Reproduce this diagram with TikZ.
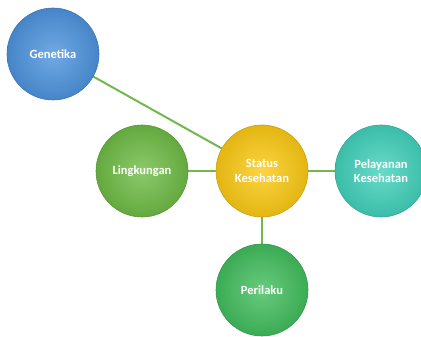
\documentclass[tikz,border=0pt]{standalone}
\usepackage{fontspec}
\setmainfont{Carlito}
\usetikzlibrary{backgrounds}
\definecolor{cblue}{HTML}{4D94DE}
\definecolor{clime}{HTML}{6FBC46}
\definecolor{cyel}{HTML}{FCCA14}
\definecolor{cteal}{HTML}{42D2BC}
\definecolor{cgreen}{HTML}{42BE5E}
\definecolor{cline}{HTML}{72B84A}
\tikzset{
  bubble/.style={circle, minimum size=92pt, inner sep=0pt, align=center,
    text=white, font=\bfseries\fontsize{12.5}{14.5}\selectfont,
    draw=#1!80!black, line width=0.6pt,
    inner color=#1!80!white, outer color=#1!90!black},
  link/.style={draw=cline, line width=2pt}
}
\begin{document}
\begin{tikzpicture}[x=1pt,y=-1pt]
\useasboundingbox (0,0) rectangle (421,337);
\node[bubble=cblue] (gen) at (53,54) {Genetika};
\node[bubble=clime] (ling) at (142,171) {Lingkungan};
\node[bubble=cyel] (stat) at (262,171) {Status\\Kesehatan};
\node[bubble=cteal] (pel) at (381,171) {Pelayanan\\Kesehatan};
\node[bubble=cgreen] (per) at (262,290) {Perilaku};
\begin{scope}[on background layer]
\draw[link] (gen.center) -- (stat.center);
\draw[link] (ling.center) -- (stat.center);
\draw[link] (stat.center) -- (pel.center);
\draw[link] (stat.center) -- (per.center);
\end{scope}
\end{tikzpicture}
\end{document}
